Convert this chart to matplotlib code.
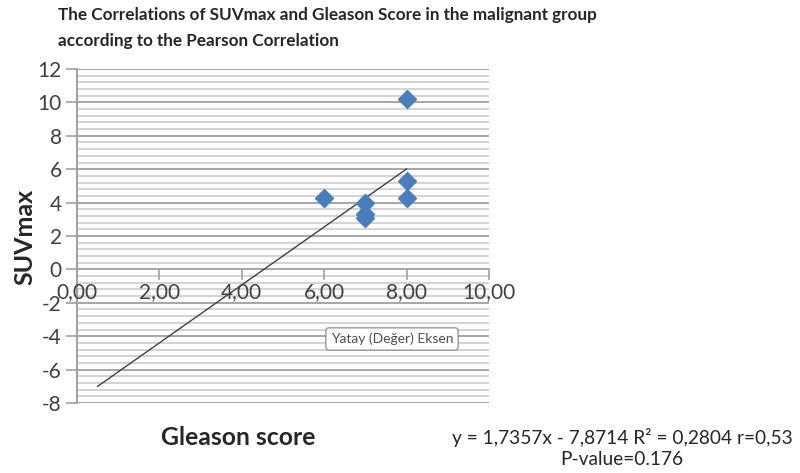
import matplotlib
matplotlib.use("Agg")
import matplotlib.pyplot as plt
import numpy as np

plt.rcParams['font.family'] = ['Lato', 'DejaVu Sans']

# Data
gleason = [8, 6, 7, 7, 7, 8, 8]
suvmax = [10.2, 4.3, 4.0, 3.3, 3.1, 5.3, 4.3]
slope = 1.7357
intercept = -7.8714
trend_x = [0.5, 8.0]
x_ticks = [0, 2, 4, 6, 8, 10]
x_ticklabels = ["0,00", "2,00", "4,00", "6,00", "8,00", "10,00"]
y_ticks = [-8, -6, -4, -2, 0, 2, 4, 6, 8, 10, 12]

fig = plt.figure(figsize=(8, 4.73), dpi=100)
ax = fig.add_axes([77/800, 1-403/473, (489-77)/800, (403-69)/473])
ax.set_xlim(0, 10)
ax.set_ylim(-8, 12)

# gridlines
minor_vals = [v for v in np.arange(-8, 12.001, 0.4) if abs(v/2 - round(v/2)) > 1e-6]
for v in minor_vals:
    ax.axhline(v, color='#d0d0d0', lw=1.3, zorder=0)
for v in y_ticks:
    ax.axhline(v, color='#a6a6a6', lw=1.4, zorder=0)

for s in ['top', 'right', 'bottom']:
    ax.spines[s].set_visible(False)
ax.spines['left'].set_color('#a0a0a0')
ax.spines['left'].set_linewidth(1.4)
ax.spines['left'].set_zorder(1)

ax.set_yticks(y_ticks)
ax.set_yticklabels([str(v) for v in y_ticks])
ax.tick_params(axis='y', length=8, width=1.2, color='#a0a0a0', labelsize=15,
               labelcolor='#404040', pad=3)

# x axis at y=0
ax.set_xticks([])
for xt, lab in zip(x_ticks, x_ticklabels):
    if xt > 0:
        ax.plot([xt, xt], [0, -0.6], color='#a0a0a0', lw=1.2, zorder=1, clip_on=False)
    ax.text(xt, -0.75, lab, ha='center', va='top', fontsize=15, color='#404040', zorder=2)

# trendline
tx = np.array(trend_x)
ax.plot(tx, slope*tx + intercept, color='#404040', lw=1.0, zorder=3)

# data
ax.plot(gleason, suvmax, linestyle='none', marker='D', markersize=9,
        color='#4a7ebb', markeredgecolor='#4a7ebb', zorder=4)

# tooltip
ax.text(392/800, 1-339/473, "Yatay (Değer) Eksen", transform=fig.transFigure,
        ha='center', va='center', fontsize=10, color='#505050', zorder=6,
        bbox=dict(boxstyle='round,pad=0.35,rounding_size=0.2', fc='white', ec='#808080', lw=0.8))

# titles and labels
fig.text(58/800, 1-15/473, "The Correlations of SUVmax and Gleason Score in the malignant group",
         ha='left', va='center', fontsize=12.3, fontweight='bold', color='#262626')
fig.text(58/800, 1-41/473, "according to the Pearson Correlation",
         ha='left', va='center', fontsize=12.3, fontweight='bold', color='#262626')
fig.text(25/800, 1-237/473, "SUVmax", rotation=90, ha='center', va='center',
         fontsize=18, fontweight='bold', color='#262626')
fig.text(238/800, 1-437/473, "Gleason score", ha='center', va='center',
         fontsize=17.8, fontweight='bold', color='#262626')
fig.text(622/800, 1-437/473, "y = 1,7357x - 7,8714 R² = 0,2804 r=0,53",
         ha='center', va='center', fontsize=13.8, color='#262626')
fig.text(622/800, 1-459/473, "P-value=0.176",
         ha='center', va='center', fontsize=13.8, color='#262626')

fig.savefig("out.png", dpi=100)
